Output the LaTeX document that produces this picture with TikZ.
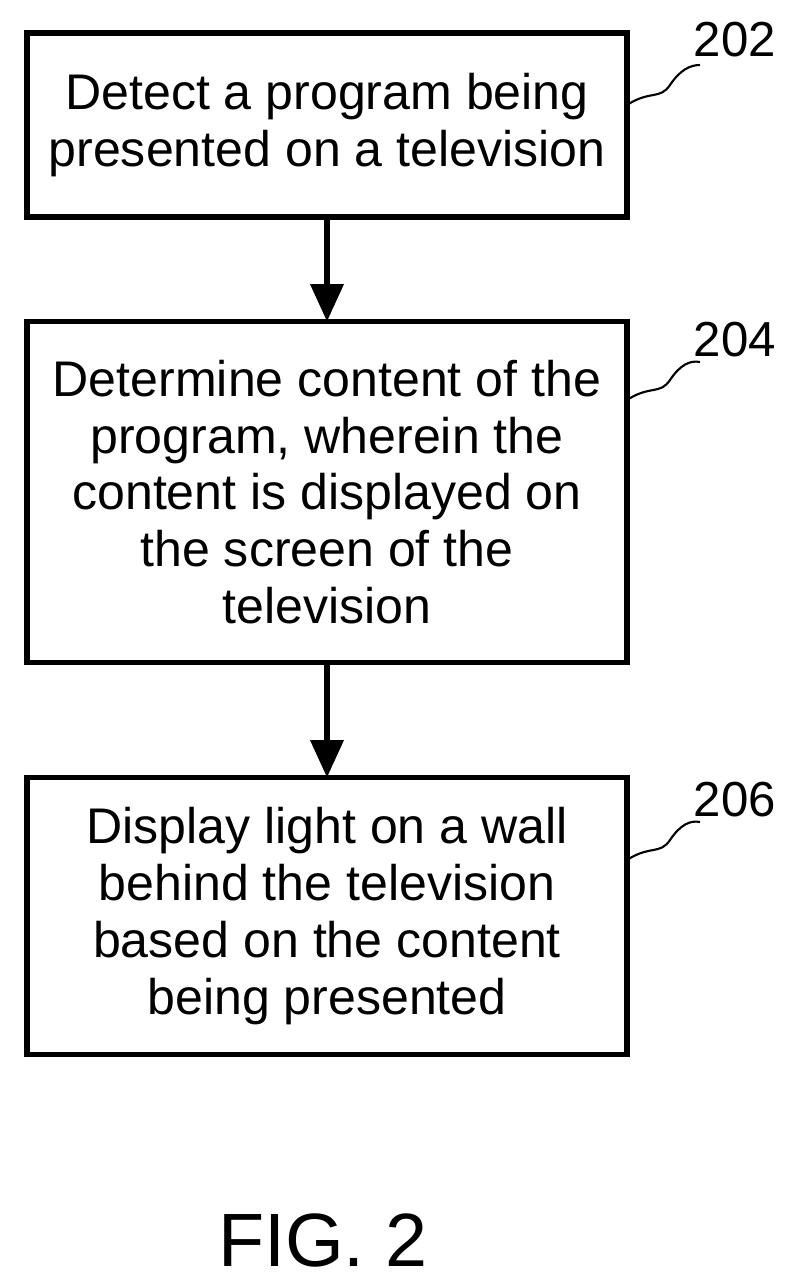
\documentclass[tikz,border=0pt]{standalone}
\usepackage{fontspec}
\setmainfont{Liberation Sans}
\usetikzlibrary{arrows.meta}
\begin{document}
\begin{tikzpicture}[x=0.02cm,y=-0.02cm]
\tikzset{ >={Triangle[length=0.75cm,width=0.65cm]}, inner sep=0pt, outer sep=0pt,
  stepbox/.style={draw, line width=3.2pt, align=center, font=\fontsize{28.5}{32.3}\selectfont},
  reflabel/.style={font=\fontsize{28}{32}\selectfont},
  squig/.style={line width=1.2pt} }

\useasboundingbox (0,0) rectangle (795,1286);

%%% Blocos

% 202
\node [stepbox, minimum width=600*0.02cm, minimum height=184*0.02cm] (detect) at (327,125)
  {Detect a program being\\presented on a television};
\node [reflabel] (n202) at (735,40) {202};

% 204
\node [stepbox, minimum width=600*0.02cm, minimum height=341*0.02cm] (determine) at (327,492)
  {Determine content of the\\program, wherein the\\content is displayed on\\the screen of the\\television};
\node [reflabel] (n204) at (735,340) {204};

% 206
\node [stepbox, minimum width=600*0.02cm, minimum height=277*0.02cm] (display) at (327,916)
  {Display light on a wall\\behind the television\\based on the content\\being presented};
\node [reflabel] (n206) at (735,800) {206};

\node [font=\fontsize{43}{50}\selectfont] (fig) at (323,1240) {FIG. 2};

%%% Linhas

\draw [->, line width=3.2pt] (detect) -- (determine);
\draw [->, line width=3.2pt] (determine) -- (display);

% squiggles
\draw [squig] (detect.east |- 0,105) .. controls (650,90) and (660,100) .. (670,85)
  .. controls (680,70) and (690,65) .. (700,65);
\draw [squig] (determine.east |- 0,400) .. controls (650,385) and (660,395) .. (670,380)
  .. controls (680,365) and (690,360) .. (700,362);
\draw [squig] (display.east |- 0,860) .. controls (650,845) and (660,855) .. (670,840)
  .. controls (680,825) and (690,820) .. (700,822);

\end{tikzpicture}
\end{document}
